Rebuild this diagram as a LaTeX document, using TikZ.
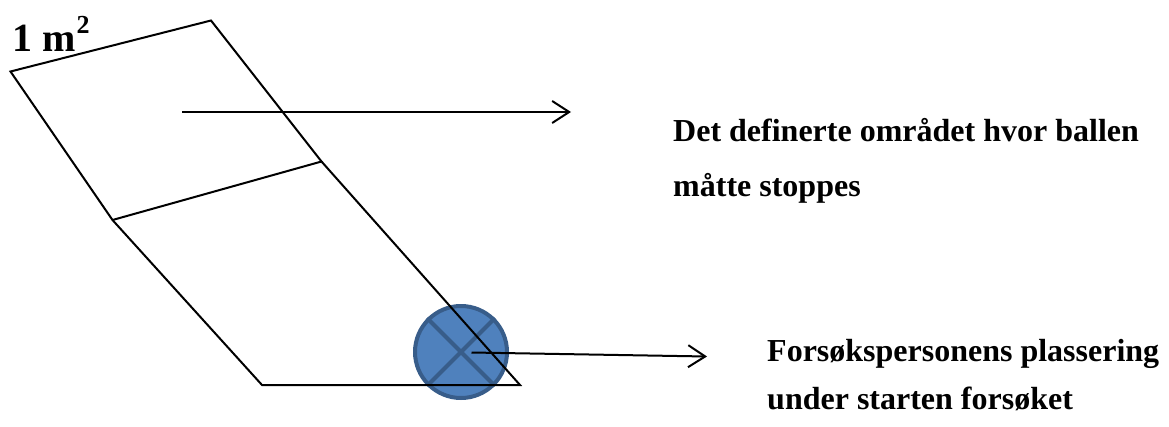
\documentclass[tikz,border=0pt]{standalone}
\usepackage{fontspec}
\setmainfont{Liberation Serif}
\usetikzlibrary{arrows.meta}
\definecolor{ballfill}{HTML}{4F81BD}
\definecolor{balldraw}{HTML}{385D8A}
\tikzset{
  edge/.style={line width=2pt, line join=miter},
  pointer/.style={line width=2pt, -{Straight Barb[length=17pt,width=22pt,line width=2pt]}},
  lbl/.style={font=\bfseries\fontsize{32}{36}\selectfont, anchor=base west, inner sep=0pt},
}
\begin{document}
\begin{tikzpicture}[x=1pt,y=-1pt]
\useasboundingbox (0,0) rectangle (1169,426);
% ball (below the lines)
\node[circle, minimum size=92pt, fill=ballfill, draw=balldraw, line width=4pt, inner sep=0pt] (ball) at (461,352) {};
\draw[balldraw, line width=4pt] (ball.north west) -- (ball.south east);
\draw[balldraw, line width=4pt] (ball.north east) -- (ball.south west);
% corners
\coordinate (tl) at (10.5,71.5);
\coordinate (tr) at (211,20.5);
\coordinate (mr) at (321.5,161.5);
\coordinate (ml) at (112.5,220);
\coordinate (bl) at (262,385);
\coordinate (br) at (520,385);
\draw[edge] (tl) -- (tr) -- (mr) -- (ml) -- cycle;
\draw[edge] (ml) -- (bl) -- (br) -- (mr);
% area label
\node[anchor=base west, inner sep=0pt, font=\bfseries] (area) at (12,51)
  {\fontsize{40}{42}\selectfont 1 m\kern1pt\raisebox{18pt}{\fontsize{26}{28}\selectfont 2}};
% arrow 1
\coordinate (a1s) at (182,112);
\coordinate (a1e) at (571,112);
\draw[pointer] (a1s) -- (a1e);
\node[lbl] (t1) at (673,141.5) {Det definerte området hvor ballen};
\node[lbl] (t2) at (673,196.5) {måtte stoppes};
% arrow 2
\coordinate (a2s) at (471.5,352.5);
\coordinate (a2e) at (707,356.5);
\draw[pointer] (a2s) -- (a2e);
\node[lbl] (t3) at (767,361) {Forsøkspersonens plassering};
\node[lbl] (t4) at (767,409) {under starten forsøket};
\end{tikzpicture}
\end{document}
